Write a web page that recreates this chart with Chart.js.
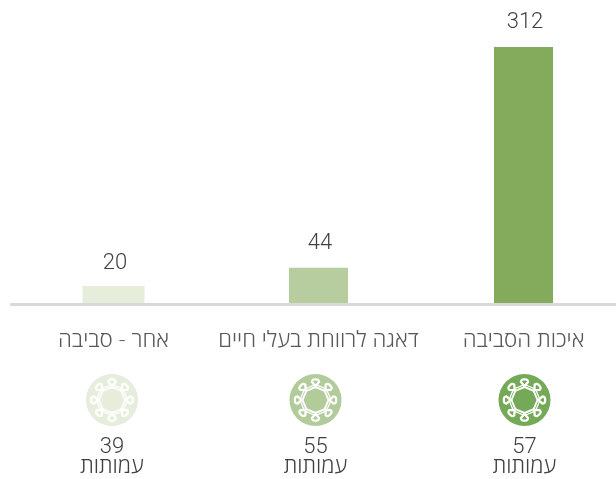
<!DOCTYPE html>
<html lang="he">
<head>
<meta charset="utf-8">
<script src="https://cdn.jsdelivr.net/npm/chart.js@4/dist/chart.umd.min.js"></script>
<style>
  html, body { margin: 0; padding: 0; background: #fff; overflow: hidden; }
  #wrap { width: 616px; height: 479px; overflow: hidden; }
</style>
</head>
<body>
<div id="wrap"><canvas id="chart" width="626" height="479"></canvas></div>
<script>
const categories = ["אחר - סביבה", "דאגה לרווחת בעלי חיים", "איכות הסביבה"];
const values = [20, 44, 312];
const pageCounts = [39, 55, 57];
const pageWord = "עמותות";
const barColors = ["#E6EDDB", "#B8CD9F", "#84AB5C"];
const iconColors = ["#E6EDDB", "#B2CB9B", "#74A957"];

const textColor = "#595959";
const numberFont = '300 22px Roboto, sans-serif';
const hebrewFamily = '"Open Sans", sans-serif';

function drawIcon(ctx, cx, cy, color) {
  ctx.save();
  ctx.translate(cx, cy);
  ctx.fillStyle = color;
  ctx.beginPath();
  ctx.arc(0, 0, 26, 0, Math.PI * 2);
  ctx.fill();

  ctx.strokeStyle = "#fff";
  ctx.lineJoin = "round";
  // chain ring, two octagons with their corners on the drops
  [[13, 1.9], [15.5, 1.3]].forEach(([r, w]) => {
    ctx.lineWidth = w;
    ctx.beginPath();
    for (let i = 0; i < 8; i++) {
      const a = (i * Math.PI) / 4;
      const px = Math.cos(a) * r, py = Math.sin(a) * r;
      if (i === 0) ctx.moveTo(px, py);
      else ctx.lineTo(px, py);
    }
    ctx.closePath();
    ctx.stroke();
  });
  // eight drops around the ring
  for (let i = 0; i < 8; i++) {
    ctx.save();
    ctx.rotate((i * Math.PI) / 4);
    ctx.fillStyle = color;
    ctx.lineWidth = 2.3;
    ctx.beginPath();
    ctx.moveTo(0, -14);
    ctx.lineTo(-3.6, -18);
    ctx.quadraticCurveTo(-3.4, -21, 0, -20.6);
    ctx.quadraticCurveTo(3.4, -21, 3.6, -18);
    ctx.closePath();
    ctx.fill();
    ctx.stroke();
    ctx.restore();
  }
  ctx.restore();
}

const decorations = {
  id: "decorations",
  afterDatasetsDraw(chart) {
    const { ctx, scales: { x, y } } = chart;
    const base = y.getPixelForValue(0);
    const columnShift = [-1.5, -3, 1];

    // axis line starts a little left of the plot area
    ctx.save();
    ctx.strokeStyle = "#D9D9D9";
    ctx.lineWidth = 3;
    ctx.beginPath();
    ctx.moveTo(10, base + 0.5);
    ctx.lineTo(x.right, base + 0.5);
    ctx.stroke();

    ctx.textAlign = "center";
    ctx.textBaseline = "middle";
    values.forEach((v, i) => {
      const cx = x.getPixelForValue(i);
      ctx.fillStyle = "#404040";
      ctx.font = numberFont;
      ctx.fillText(String(v), cx + 1.5, y.getPixelForValue(v) - 24.5);

      drawIcon(ctx, cx + columnShift[i], 400, iconColors[i]);

      ctx.fillStyle = "#404040";
      ctx.font = numberFont;
      ctx.fillText(String(pageCounts[i]), cx + columnShift[i], 447);
      ctx.font = "300 22px " + hebrewFamily;
      ctx.fillText(pageWord, cx + columnShift[i], 467);
    });
    ctx.restore();
  },
};

new Chart(document.getElementById("chart"), {
  type: "bar",
  data: {
    labels: categories,
    datasets: [
      {
        data: values,
        backgroundColor: barColors,
        barThickness: 59,
        inflateAmount: (c) => (c.dataIndex === 0 ? 1.5 : 0),
      },
    ],
  },
  options: {
    responsive: false,
    animation: false,
    layout: { padding: { left: 11, right: 0, top: 0, bottom: 0 } },
    plugins: { legend: { display: false }, tooltip: { enabled: false } },
    scales: {
      x: {
        grid: { display: false, drawTicks: false },
        border: { display: false },
        ticks: {
          color: textColor,
          padding: 23,
          maxRotation: 0,
          autoSkip: false,
          font: { family: hebrewFamily, size: 22.3, weight: 300 },
        },
        afterFit(scale) {
          scale.height = 175;
        },
      },
      y: {
        display: false,
        min: 0,
        max: 369,
      },
    },
  },
  plugins: [decorations],
});
</script>
</body>
</html>
